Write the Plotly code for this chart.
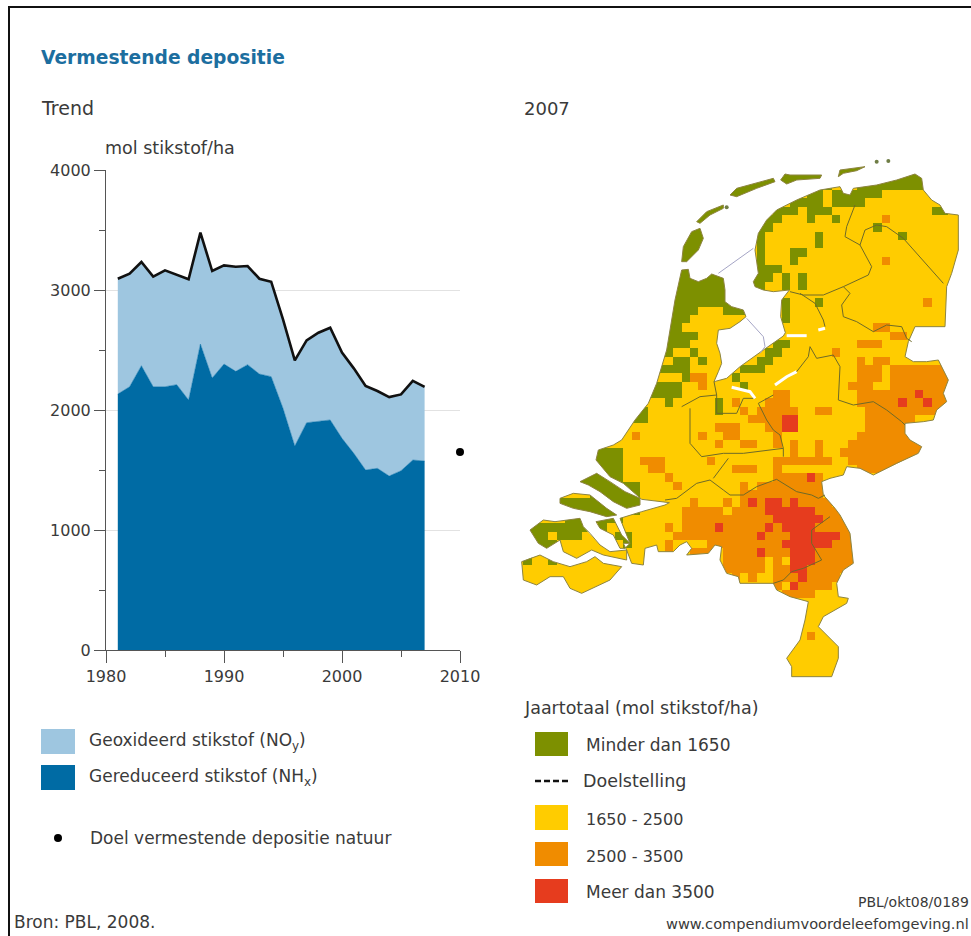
import plotly.graph_objects as go

# ---------- trend data ----------
YEARS = list(range(1981, 2008))
TOTAL = [3094, 3136, 3233, 3111, 3164, 3125, 3089, 3478, 3158, 3205, 3194, 3200, 3094, 3069,
         2755, 2414, 2580, 2644, 2686, 2478, 2347, 2200, 2158, 2108, 2130, 2242, 2192]
NHX = [2133, 2194, 2369, 2194, 2194, 2211, 2083, 2550, 2267, 2383, 2322, 2378, 2300, 2278,
       2014, 1700, 1894, 1908, 1917, 1764, 1639, 1500, 1514, 1450, 1494, 1583, 1575]
TARGET_YEAR = [2010]
TARGET_VALUE = [1650]
X_TICKS = [1980, 1990, 2000, 2010]
Y_TICKS = [0, 1000, 2000, 3000, 4000]

# ---------- map data: class cells as (row, first column, last column) ----------
GREEN = [(0,38,43),(1,38,43),(1,31,37),(2,31,37),(1,25,31),(2,25,31),(3,25,30),(4,21,25),(5,21,25),(6,21,24),(7,19,22),
         (8,19,22),(9,19,22),(10,19,22),(11,19,22),
         (1,45,48),(2,41,48),(3,35,36),(3,38,43),(4,33,36),(4,38,41),(5,31,33),(5,35,37),(5,50,51),
         (6,30,31),(6,35,35),(6,38,38),(7,29,30),(7,43,43),(8,29,29),(8,36,36),(8,46,46),(9,29,29),(9,36,36),
         (10,29,29),(10,33,34),(11,29,29),(11,33,33),(12,29,31),(13,28,30),(13,32,32),(13,34,34),
         (14,28,29),(14,32,32),(14,34,34),(16,32,32),(16,36,36),(17,32,32),(18,32,32),
         (12,19,21),(13,19,25),(14,19,25),(15,19,25),(16,19,25),(17,18,21),(17,25,27),(18,18,20),(19,18,19),
         (20,18,21),(21,18,20),(21,31,32),(22,18,18),(22,21,21),(22,30,31),(23,19,20),(23,22,22),(23,29,30),
         (24,17,20),(24,27,29),(25,20,20),(25,26,26),(26,16,19),(26,27,27),(27,16,19),(28,18,18),(28,24,24),
         (29,24,24),(29,14,15),(30,13,15),
         (34,9,12),(35,9,12),(36,9,12),(37,7,12),(38,7,14),(39,9,14),(40,4,14),(41,4,14),(42,6,11),
         (43,1,8),(43,10,10),(44,1,7),(44,12,13),(45,2,4),(45,13,13),(42,9,12),(47,1,1),(47,4,4),(62,37,37)]
ORANGE = [(6,44,44),(11,44,44),(16,49,49),(19,43,44),(20,45,46),(21,41,43),(22,38,38),(23,41,41),(23,43,44),
          (24,41,43),(24,45,51),(25,21,22),(25,41,43),(25,45,51),(26,22,22),(26,40,42),(26,45,51),
          (27,31,32),(27,41,51),(28,26,26),(28,30,32),(28,41,51),(29,27,27),(29,29,33),(29,36,37),(29,42,51),
          (30,28,33),(30,42,47),(31,24,26),(31,30,33),(31,42,47),(32,14,14),(32,22,22),(32,25,26),(32,31,31),(32,41,47),
          (33,24,24),(33,27,28),(33,31,31),(33,33,33),(33,36,36),(33,40,48),(34,33,33),(34,36,36),(34,39,48),
          (35,15,17),(35,23,23),(35,31,37),(35,40,47),(36,16,17),(36,26,28),(36,31,31),(36,41,45),
          (37,18,18),(37,31,36),(38,19,19),(38,27,27),(38,29,36),(39,27,36),(40,21,21),(40,25,25),(40,27,37),
          (41,20,24),(41,26,38),(42,20,29),(42,30,39),(43,18,18),(43,20,40),(44,19,40),(45,18,18),(45,23,40),
          (46,18,18),(46,21,23),(46,25,40),(47,25,40),(48,25,40),(49,26,26),(49,28,28),(49,31,38),
          (50,31,31),(50,34,37),(51,32,35),(56,35,35)]
RED = [(27,48,48),(28,46,46),(28,49,49),(30,32,33),(31,32,33),(37,35,35),(40,28,28),(40,30,31),(40,33,33),
       (41,30,35),(42,31,36),(43,24,24),(43,30,30),(43,32,35),(44,29,29),(44,33,38),(45,32,37),(46,29,29),(46,33,35),
       (47,33,35),(48,33,34),(49,34,34),(50,33,33)]
YELLOW_SPOTS = [(44,4,4),(43,11,12),(45,22,22),(41,25,25),(47,30,30),(47,32,32),(48,30,30),(49,27,27),(49,29,30),(50,32,32)]
N_ROWS = 63
N_COLS = 54
CLASS_COLORS = ["#7d9000", "#ffcc00", "#f08c00", "#e63c1e"]

# ---------- map geometry, in map units ----------
MAINLAND = [(515,360),(535,358),(540,385),(565,395),(590,385),(605,372),(640,385),(645,420),(645,455),(665,470),(700,480),
            (708,500),(690,515),(660,535),(625,540),(620,580),(630,610),(635,640),(625,665),(612,695),(650,685),(690,650),
            (760,600),(820,558),(826,548),(812,500),(815,450),(838,420),(790,425),(760,420),(735,410),(730,395),(745,370),
            (735,300),(745,250),(770,210),(800,180),(860,150),(930,120),(990,110),(1000,130),(1020,135),(1030,115),(1100,105),
            (1160,90),(1215,72),(1235,85),(1240,120),(1265,150),(1290,165),(1305,190),(1345,195),(1345,300),(1325,370),
            (1310,410),(1305,530),(1215,530),(1195,575),(1185,620),(1210,635),(1250,635),(1285,630),(1300,660),(1315,690),
            (1300,730),(1310,755),(1280,780),(1270,810),(1240,815),(1185,820),(1185,850),(1200,870),(1235,890),(1225,910),
            (1160,940),(1090,975),(1050,955),(1010,950),(1000,975),(960,985),(935,995),(940,1035),(975,1075),(990,1095),
            (1020,1150),(1030,1240),(1000,1260),(980,1300),(985,1340),(1015,1345),(1010,1360),(985,1375),(940,1400),
            (925,1430),(950,1455),(985,1490),(985,1525),(965,1580),(845,1580),(845,1550),(830,1525),(870,1470),(885,1410),
            (895,1355),(840,1340),(800,1320),(790,1300),(690,1300),(685,1280),(650,1270),(630,1230),(635,1190),(615,1185),
            (595,1210),(530,1215),(545,1195),(530,1175),(510,1185),(490,1205),(445,1205),(440,1185),(405,1195),(400,1245),
            (365,1240),(350,1200),(340,1180),(360,1180),(335,1120),(330,1105),(395,1085),(465,1065),(478,1058),(395,1048),
            (340,1000),(300,980),(258,930),(265,900),(310,885),(335,870),(375,810),(415,760),(440,700),(470,600),(495,450)]
TEXEL = [(515,335),(520,290),(545,245),(570,235),(580,265),(565,300),(530,335)]
VLIELAND = [(560,215),(590,185),(640,165),(640,175),(600,195),(570,220)]
TERSCHELLING = [(660,135),(680,115),(790,85),(795,95),(740,115),(680,140)]
AMELAND = [(812,90),(825,72),(840,75),(935,75),(930,85),(860,90),(830,102)]
SCHIERMONNIKOOG = [(985,80),(990,60),(1065,50),(1040,62),(1000,70)]
ROTTUM_X = [1100, 1135, 650]
ROTTUM_Y = [35, 33, 172]
GOEREE = [(210,995),(260,970),(300,995),(345,1025),(390,1045),(390,1065),(350,1075),(310,1055),(270,1025),(235,1005)]
SCHOUWEN = [(150,1045),(190,1030),(240,1035),(290,1075),(320,1095),(290,1100),(240,1085),(190,1075),(150,1060)]
BEVELAND = [(60,1140),(100,1110),(135,1115),(210,1105),(220,1130),(240,1150),(270,1185),(300,1205),(350,1200),(350,1230),
            (280,1215),(245,1200),(200,1225),(160,1205),(150,1170),(110,1195),(85,1180)]
THOLEN = [(258,1115),(310,1105),(335,1155),(360,1180),(345,1195),(330,1195),(310,1155),(270,1135)]
VLAANDEREN = [(35,1235),(60,1225),(90,1215),(130,1235),(180,1250),(230,1235),(255,1220),(280,1240),(335,1250),(300,1290),
              (215,1330),(180,1315),(160,1280),(120,1280),(80,1305),(40,1290)]
LAND_PARTS = [MAINLAND, TEXEL, VLIELAND, TERSCHELLING, AMELAND, SCHIERMONNIKOOG,
              GOEREE, SCHOUWEN, BEVELAND, THOLEN, VLAANDEREN]
BORDERS = [[(1035,165),(1010,230),(1005,260),(1050,285)],
           [(1050,285),(1065,240),(1100,225),(1130,230),(1180,265),(1300,400)],
           [(1050,285),(1085,350),(1075,375),(1000,410),(940,435),(880,435),(840,425)],
           [(870,430),(915,460),(940,510),(945,530)],
           [(1000,410),(1020,430),(995,465),(1000,500),(1040,515),(1090,545),(1130,525),(1175,530),(1190,565),(1205,575)],
           [(900,590),(920,625),(970,615),(990,650),(985,750),(1030,765),(1090,755),(1130,780),(1175,815),(1185,825)],
           [(900,590),(895,620),(860,665)],
           [(790,735),(745,760),(770,810),(790,840),(810,855),(820,895),(820,920)],
           [(612,695),(620,735),(570,740),(515,770)],
           [(620,735),(620,790),(680,790),(700,745),(730,745)],
           [(540,775),(540,880),(575,920),(640,910),(700,910),(770,900),(820,895)],
           [(465,1050),(500,1045),(560,1000),(600,990),(640,1020),(660,1035),(700,1035),(740,1010),(800,988),(860,1025),(905,1035),(925,1045),(945,1035)],
           [(655,925),(610,985)],
           [(960,1100),(905,1140),(905,1180),(935,1230),(880,1255),(845,1265),(820,1290),(790,1300)]]
WATER_SLOTS = [[(830,557),(890,557)], [(925,540),(945,535)], [(795,705),(830,680),(860,665)], [(665,712),(720,725),(735,745)]]
DIKES = [[(625,370),(730,295)], [(710,505),(760,560),(765,590),(750,610)]]

# ---------- text ----------
TITLE = "Vermestende depositie"
LEG_LEFT = ["Geoxideerd stikstof (NO<sub>y</sub>)", "Gereduceerd stikstof (NH<sub>x</sub>)", "Doel vermestende depositie natuur"]
LEG_RIGHT = ["Minder dan 1650", "Doelstelling", "1650 - 2500", "2500 - 3500", "Meer dan 3500"]

W, H = 971, 936
FONT = "DejaVu Sans"
TXT = "#3a3a3a"
LIGHT, DARK = "#9ec6e0", "#006ba4"

def fx(p): return p / W
def fy(p): return 1 - p / H

def flatten(paths):
    xs, ys = [], []
    for path in paths:
        xs += [p[0] for p in path] + [None]
        ys += [p[1] for p in path] + [None]
    return xs, ys

def closed(path):
    return list(path) + [path[0]]

def area(path):
    return sum(a[0] * b[1] - b[0] * a[1] for a, b in zip(path, path[1:] + path[:1]))

def oriented(path, positive):
    return path if (area(path) > 0) == positive else path[::-1]

fig = go.Figure()

# trend chart
fig.add_trace(go.Scatter(x=YEARS, y=NHX, mode="lines", line=dict(color=DARK, width=0.5), fill="tozeroy",
                         fillcolor=DARK, hoverinfo="skip", showlegend=False))
fig.add_trace(go.Scatter(x=YEARS, y=TOTAL, mode="lines", line=dict(color="#111111", width=2.6), fill="tonexty",
                         fillcolor=LIGHT, showlegend=False))
fig.add_trace(go.Scatter(x=TARGET_YEAR, y=TARGET_VALUE, mode="markers", marker=dict(color="#000000", size=8),
                         cliponaxis=False, showlegend=False))

# map: grid of cells
z = [[1] * N_COLS for _ in range(N_ROWS)]
for runs, value in ((ORANGE, 2), (GREEN, 0), (RED, 3), (YELLOW_SPOTS, 1)):
    for row, first, last in runs:
        for col in range(first, last + 1):
            z[row][col] = value
scale = []
for i, c in enumerate(CLASS_COLORS):
    scale += [[i / 4, c], [(i + 1) / 4, c]]
CELL = 25
X_START, Y_START = 15, 45
fig.add_trace(go.Heatmap(z=z, x0=X_START + CELL / 2, dx=CELL, y0=Y_START + CELL / 2, dy=CELL, zmin=-0.5, zmax=3.5,
                         colorscale=scale, showscale=False, hoverinfo="skip", xaxis="x2", yaxis="y2", zsmooth=False))

# map: white sea mask with land holes
x_end, y_end = X_START + N_COLS * CELL, Y_START + N_ROWS * CELL
frame = [(X_START - 3, Y_START - 3), (x_end + 3, Y_START - 3), (x_end + 3, y_end + 3), (X_START - 3, y_end + 3)]
mask_paths = [closed(oriented(frame, True))] + [closed(oriented(p, False)) for p in LAND_PARTS]
mx, my = flatten(mask_paths)
fig.add_trace(go.Scatter(x=mx, y=my, mode="lines", line=dict(width=0, color="white"), fill="toself", fillcolor="white",
                         hoverinfo="skip", showlegend=False, xaxis="x2", yaxis="y2"))
sx, sy = flatten(WATER_SLOTS)
fig.add_trace(go.Scatter(x=sx, y=sy, mode="lines", line=dict(width=3, color="white"), hoverinfo="skip",
                         showlegend=False, xaxis="x2", yaxis="y2"))
cx, cy = flatten([closed(p) for p in LAND_PARTS])
fig.add_trace(go.Scatter(x=cx, y=cy, mode="lines", line=dict(width=1, color="#8d8440"), hoverinfo="skip",
                         showlegend=False, xaxis="x2", yaxis="y2"))
bx, by = flatten(BORDERS)
fig.add_trace(go.Scatter(x=bx, y=by, mode="lines", line=dict(width=1, color="#6e6a28"), hoverinfo="skip",
                         showlegend=False, xaxis="x2", yaxis="y2"))
dx_, dy_ = flatten(DIKES)
fig.add_trace(go.Scatter(x=dx_, y=dy_, mode="lines", line=dict(width=1, color="#a5a5c5"), hoverinfo="skip",
                         showlegend=False, xaxis="x2", yaxis="y2"))
fig.add_trace(go.Scatter(x=ROTTUM_X, y=ROTTUM_Y, mode="markers", marker=dict(size=4, color="#6f7d45"), hoverinfo="skip",
                         showlegend=False, xaxis="x2", yaxis="y2"))

# text
def label(px, py, text, size=15, color=TXT, anchor="left", bold=False):
    fig.add_annotation(xref="paper", yref="paper", x=fx(px), y=fy(py), text=f"<b>{text}</b>" if bold else text,
                       showarrow=False, xanchor=anchor, yanchor="middle", align=anchor,
                       xshift=-1 if anchor == "left" else 0, borderpad=0, borderwidth=0,
                       font=dict(family=FONT, size=size, color=color))

label(42, 57, TITLE, size=18.7, color="#1c6e9f", bold=True)
label(42, 108, "Trend", 19)
label(525, 108, "2007", 18)
label(106, 148, "mol stikstof/ha", 17.5)
label(90, 741, LEG_LEFT[0], 17)
label(90, 777, LEG_LEFT[1], 17)
label(91, 838, LEG_LEFT[2], 17)
label(525, 708, "Jaartotaal (mol stikstof/ha)", 17.5)
label(587, 745, LEG_RIGHT[0], 17)
label(584, 781, LEG_RIGHT[1], 17.5)
label(587, 819, LEG_RIGHT[2], 16)
label(587, 856, LEG_RIGHT[3], 16)
label(587, 892, LEG_RIGHT[4], 17)
label(15, 922, "Bron: PBL, 2008.", 17)
label(969, 902, "PBL/okt08/0189", 14, anchor="right")
label(969, 923, "www.compendiumvoordeleefomgeving.nl", 14.6, anchor="right")

# swatches, legend dot and frame
def rect(x0, y0, x1, y1, color):
    return dict(type="rect", xref="paper", yref="paper", x0=fx(x0), x1=fx(x1), y0=fy(y0), y1=fy(y1),
                fillcolor=color, line=dict(width=0), layer="above")

shapes = [rect(41, 729, 75, 754, LIGHT), rect(41, 765, 75, 790, DARK),
          rect(535, 732, 568, 756, CLASS_COLORS[0]), rect(535, 805, 568, 830, CLASS_COLORS[1]),
          rect(535, 842, 568, 866, CLASS_COLORS[2]), rect(535, 879, 568, 903, CLASS_COLORS[3]),
          dict(type="line", xref="paper", yref="paper", x0=fx(535), x1=fx(568), y0=fy(781), y1=fy(781),
               line=dict(color="#111111", width=2.5, dash="6px,3px")),
          dict(type="circle", xref="paper", yref="paper", x0=fx(54), x1=fx(62), y0=fy(834), y1=fy(842),
               fillcolor="#000000", line=dict(width=0)),
          dict(type="line", xref="paper", yref="paper", x0=fx(8), x1=1, y0=fy(7), y1=fy(7),
               line=dict(color="#111111", width=2)),
          dict(type="line", xref="paper", yref="paper", x0=fx(9), x1=fx(9), y0=fy(7), y1=0,
               line=dict(color="#111111", width=2))]

axis_line = "#555555"
fig.update_layout(
    template="none",
    width=W, height=H, margin=dict(l=0, r=0, t=0, b=0, pad=0, autoexpand=False), autosize=False,
    paper_bgcolor="white", plot_bgcolor="rgba(0,0,0,0)", showlegend=False, shapes=shapes,
    font=dict(family=FONT, color=TXT),
    xaxis=dict(domain=[fx(106), fx(460)], range=[1980, 2010], tickvals=X_TICKS, ticks="outside", ticklen=12,
               tickcolor=axis_line, showline=True, linecolor=axis_line, showgrid=False, zeroline=False,
               tickfont=dict(size=16, color=TXT), anchor="y", automargin=False,
               minor=dict(dtick=5, ticks="outside", ticklen=6, tickcolor=axis_line, showgrid=False)),
    yaxis=dict(domain=[fy(650), fy(170)], range=[0, 4000], tickvals=Y_TICKS, ticks="outside", ticklen=11,
               tickcolor=axis_line, showline=True, linecolor=axis_line, showgrid=True, gridcolor="#e2e2e2",
               zeroline=False, tickfont=dict(size=16, color=TXT), anchor="x", automargin=False,
               minor=dict(dtick=500, ticks="outside", ticklen=6, tickcolor=axis_line, showgrid=False)),
    xaxis2=dict(domain=[fx(510), 1], range=[0, 1383], visible=False, anchor="y2", automargin=False),
    yaxis2=dict(domain=[0, 1], range=[2358, -450], visible=False, anchor="x2", automargin=False),
)

fig.write_html("out.html", config=dict(displayModeBar=False),
               post_script="document.body.style.margin='0';document.body.style.overflow='hidden';")
